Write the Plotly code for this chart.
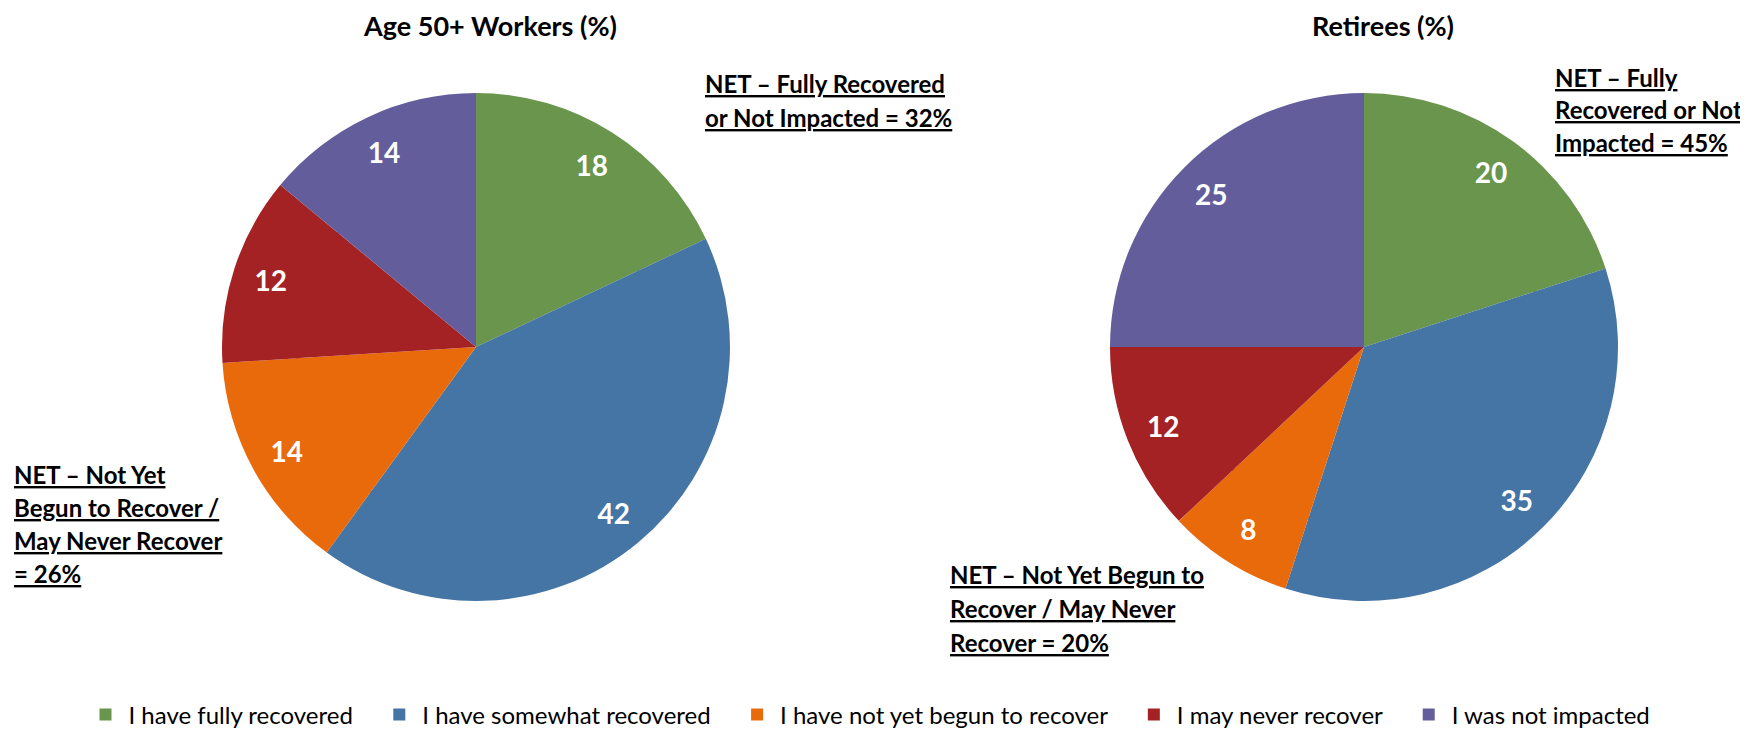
import plotly.graph_objects as go

categories = ["I have fully recovered", "I have somewhat recovered",
              "I have not yet begun to recover", "I may never recover",
              "I was not impacted"]
workers = [18, 42, 14, 12, 14]
retirees = [20, 35, 8, 12, 25]
colors = ["#69954D", "#4575A5", "#E96A0A", "#A42224", "#635E9B"]

# page body has an 8px default margin; figure is sized to fit the window
OFF = 8
W, H = 1748 - OFF, 731 - OFF
FONT = "Lato"
R = 254
HOLE = 0.7

def px(x):
    return (x - OFF) / W

def py(y):
    return 1 - (y - OFF) / H

legend_labels = [c + "\u00a0" * 3 for c in categories]

fig = go.Figure()
for vals, cx, show in [(workers, 476, True), (retirees, 1364, False)]:
    # solid core under the labelled ring (same slices), so labels sit near the rim
    rc = R * HOLE + 3
    fig.add_trace(go.Pie(
        labels=legend_labels, values=vals, sort=False, direction="clockwise",
        rotation=0, marker=dict(colors=colors), textinfo="none",
        domain=dict(x=[px(cx - rc), px(cx + rc)], y=[py(347 + rc), py(347 - rc)]),
        hoverinfo="label+value", showlegend=False,
    ))
    fig.add_trace(go.Pie(
        labels=legend_labels, values=vals, sort=False, direction="clockwise",
        rotation=0, hole=HOLE, marker=dict(colors=colors), textinfo="value",
        textposition="inside", insidetextorientation="horizontal",
        textfont=dict(family=FONT, size=28, color="white", weight="bold"),
        domain=dict(x=[px(cx - R), px(cx + R)], y=[py(347 + R), py(347 - R)]),
        hoverinfo="label+value", showlegend=show,
    ))

annotations = []
# titles
for text, cx in [("Age 50+ Workers (%)", 490), ("Retirees (%)", 1383)]:
    annotations.append(dict(text=f"<b>{text}</b>", x=px(cx), y=py(25), xref="paper", yref="paper",
                            xanchor="center", yanchor="middle", showarrow=False,
                            font=dict(family=FONT, size=27, color="black", weight="bold")))

net_notes = [
    (703, [84, 117], ["NET – Fully Recovered", "or Not Impacted = 32%"]),
    (12, [474, 507, 540, 573], ["NET – Not Yet", "Begun to Recover /", "May Never Recover", "= 26%"]),
    (948, [574, 608, 642], ["NET – Not Yet Begun to", "Recover / May Never", "Recover = 20%"]),
    (1553, [77, 110, 142], ["NET – Fully", "Recovered or Not", "Impacted = 45%"]),
]
for x0, ys, lines in net_notes:
    for yy, line in zip(ys, lines):
        annotations.append(dict(text=f"<b><u>{line}</u></b>", x=px(x0), y=py(yy),
                                xref="paper", yref="paper", xanchor="left", yanchor="middle",
                                showarrow=False, align="left",
                                font=dict(family=FONT, size=24, color="black", weight="bold")))

fig.update_layout(
    width=W, height=H,
    margin=dict(l=0, r=0, t=0, b=0, autoexpand=False),
    paper_bgcolor="white", plot_bgcolor="white",
    font=dict(family=FONT, color="black"),
    annotations=annotations,
    legend=dict(orientation="h", x=0.5, xanchor="center", y=py(715), yanchor="middle",
                font=dict(family=FONT, size=24, color="black"), traceorder="normal",
                itemwidth=36, itemclick=False, itemdoubleclick=False),
)

fig.write_html("out.html")
